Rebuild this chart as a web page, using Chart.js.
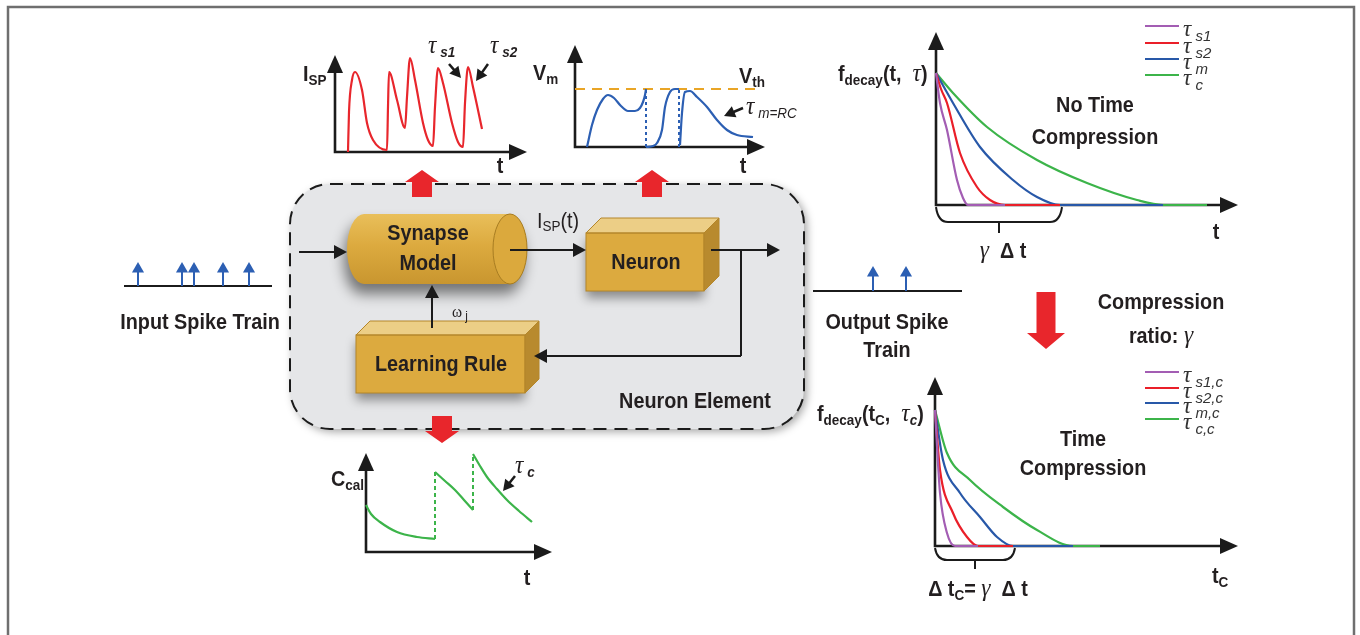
<!DOCTYPE html>
<html>
<head>
<meta charset="utf-8">
<script src="https://cdn.jsdelivr.net/npm/chart.js@4.4.1/dist/chart.umd.min.js"></script>
<style>
  body { margin: 0; width: 1360px; height: 635px; overflow: hidden; position: relative; background: #fff; }
  canvas { position: absolute; }
  .t { position: absolute; white-space: nowrap; font-family: "Liberation Sans", Arial, sans-serif; font-weight: bold; color: #231f20; line-height: 1; font-size: 22px; }
  .c { transform: translate(-50%, -50%) scaleX(.9); }
  .l { transform-origin: 0 50%; transform: translate(0, -50%) scaleX(.9); }
  .g { font-family: "Liberation Serif", "DejaVu Serif", serif; font-style: italic; font-weight: normal; font-size: 26px; }
  .sb { font-size: 15px; position: relative; top: 4px; }
  .n { font-weight: normal; }
  .lg { position: absolute; white-space: nowrap; font-family: "Liberation Sans", Arial, sans-serif; color: #333; line-height: 1; transform: translate(0, -50%); }
  .lg .g { font-size: 23px; }
  .lg .s { font-size: 15px; font-style: italic; position: relative; top: 5px; }
</style>
</head>
<body>
<canvas id="bg" width="1360" height="635" style="left:0;top:0"></canvas>
<canvas id="ispChart"></canvas>
<canvas id="vmChart"></canvas>
<canvas id="calChart"></canvas>
<canvas id="decayChart"></canvas>
<canvas id="decayCChart"></canvas>
<canvas id="inSpikes"></canvas>
<canvas id="outSpikes"></canvas>

<!-- I_SP plot -->
<div class="t l" style="left:303px;top:74px">I<span class="sb">SP</span></div>
<div class="t c" style="left:500px;top:166px">t</div>
<div class="t l" style="left:428px;top:45px"><span class="g">τ</span><span class="sb" style="font-style:italic">&nbsp;s1</span></div>
<div class="t l" style="left:490px;top:45px"><span class="g">τ</span><span class="sb" style="font-style:italic">&nbsp;s2</span></div>

<!-- V_m plot -->
<div class="t l" style="left:533px;top:73px">V<span class="sb">m</span></div>
<div class="t l" style="left:739px;top:76px">V<span class="sb">th</span></div>
<div class="t c" style="left:743px;top:166px">t</div>
<div class="t l" style="left:746px;top:106px"><span class="g">τ</span><span class="sb n" style="font-style:italic">&nbsp;m=RC</span></div>

<!-- C_cal plot -->
<div class="t l" style="left:331px;top:479px">C<span class="sb">cal</span></div>
<div class="t c" style="left:527px;top:578px">t</div>
<div class="t l" style="left:515px;top:465px"><span class="g">τ</span><span class="sb" style="font-style:italic">&nbsp;c</span></div>

<!-- decay, no compression -->
<div class="t l" style="left:838px;top:73px">f<span class="sb">decay</span>(t,&nbsp;&nbsp;<span class="g">τ</span>)</div>
<div class="t c" style="left:1095px;top:105px">No Time</div>
<div class="t c" style="left:1095px;top:137px">Compression</div>
<div class="t c" style="left:1216px;top:232px">t</div>
<div class="t c" style="left:1003px;top:250px"><span class="g">γ</span>&nbsp;&nbsp;Δ t</div>

<!-- decay, compressed -->
<div class="t l" style="left:817px;top:413px">f<span class="sb">decay</span>(t<span class="sb">C</span>,&nbsp;&nbsp;<span class="g">τ</span><span class="sb" style="font-style:italic">c</span>)</div>
<div class="t c" style="left:1083px;top:439px">Time</div>
<div class="t c" style="left:1083px;top:468px">Compression</div>
<div class="t l" style="left:1212px;top:576px">t<span class="sb">C</span></div>
<div class="t c" style="left:978px;top:588px">Δ t<span class="sb">C</span>= <span class="g">γ</span>&nbsp;&nbsp;Δ t</div>

<!-- block diagram -->
<div class="t l n" style="left:537px;top:221px">I<span class="sb" style="top:3px">SP</span>(t)</div>
<div class="t l n" style="left:452px;top:310px"><span class="g" style="font-style:normal;font-size:17px">ω</span><span style="font-size:13px;position:relative;top:3px">&nbsp;j</span></div>
<div class="t c" style="left:428px;top:233px">Synapse</div>
<div class="t c" style="left:428px;top:263px">Model</div>
<div class="t c" style="left:646px;top:262px">Neuron</div>
<div class="t c" style="left:441px;top:364px">Learning Rule</div>
<div class="t c" style="left:695px;top:401px">Neuron Element</div>
<div class="t c" style="left:200px;top:322px">Input Spike Train</div>
<div class="t c" style="left:887px;top:322px">Output Spike</div>
<div class="t c" style="left:887px;top:350px">Train</div>
<div class="t c" style="left:1161px;top:302px">Compression</div>
<div class="t c" style="left:1161px;top:335px">ratio: <span class="g">γ</span></div>

<div id="legends"></div>

<script>
// values, [t, value] in each plot's own units

// synaptic current I_SP
const ispTrace = [[13,0],[14,40],[17,72],[20,80],[27,62],[32,29],[38,12],[52,2],[53,45],[54,80],[62,52],[70,24],
                  [72,55],[75,94],[80,72],[88,29],[93,12],[98,6],[100,45],[103,84],[108,69],[117,29],[123,10],
                  [128,5],[130,49],[133,85],[138,65],[147,23]];

// membrane potential V_m
const vmTrace1 = [[12,0],[17,22],[22,37],[28,48],[33,52],[39,49],[46,41],[53,36],[60,36],[65,39],[68,45],[70,52],[71,58]];
const vmTrace2 = [[71,0],[78,1],[82,4],[87,17],[90,40],[95,55],[100,58],[104,58]];
const vmTrace3 = [[105,2],[107,34],[110,55],[115,56],[122,50],[132,40],[142,27],[152,17],[162,12],[178,10]];
const vmSpikeTimes = [71, 104];
const vThreshold = 58;
const vThresholdEnd = 183;

// calcium C_cal
const calTrace1 = [[0,47],[5,38],[14,30],[31,20],[51,15],[69,13]];
const calTrace2 = [[69,80],[79,71],[89,62],[98,52],[107,42]];
const calTrace3 = [[107,98],[114,86],[121,75],[131,63],[141,52],[153,41],[166,30]];
const calJumps = [[69, 13, 80], [107, 42, 98]];

// decay functions, no time compression
const tauS1 = [[0,132],[4,102],[11,75],[21,25],[27,7],[32,0],[69,0]];
const tauS2 = [[0,132],[5,116],[11,102],[24,52],[41,18],[54,5],[69,0],[124,0]];
const tauM  = [[0,132],[17,102],[44,58],[77,25],[101,8],[124,0],[227,0]];
const tauC  = [[0,132],[17,112],[51,78],[101,45],[151,22],[201,5],[227,0],[271,0]];
const gammaDt = 126;

// decay functions, time compressed
const tauS1c = [[0,136],[2,100],[5,53],[12,13],[20,0],[43,0]];
const tauS2c = [[0,136],[2,110],[5,76],[18,33],[32,9],[43,0],[78,0]];
const tauMc  = [[0,136],[8,86],[25,53],[45,29],[62,9],[78,0],[138,0]];
const tauCc  = [[0,136],[12,93],[35,66],[68,39],[102,16],[138,0],[165,0]];
const dtC = 80;

// spike trains
const inputSpikes = [14, 58, 70, 99, 125];
const outputSpikes = [60, 93];

const legendTop = ['s1', 's2', 'm', 'c'];
const legendBottom = ['s1,c', 's2,c', 'm,c', 'c,c'];
const decayColors = ['#a35db3', '#ea1f29', '#2858a8', '#3cb44a'];

const RED = '#e8262c', BLUE = '#2c5fb3', GREEN = '#3cb44a', INK = '#1b1b1b';

// ---------- static diagram ----------
const g = document.getElementById('bg').getContext('2d');
g.fillStyle = '#fff';
g.fillRect(0, 0, 1360, 635);
g.strokeStyle = '#6f6f6f';
g.lineWidth = 2.5;
g.strokeRect(8, 7, 1346, 660);

function rrect(x, y, w, h, r) {
  g.beginPath();
  g.moveTo(x + r, y);
  g.arcTo(x + w, y, x + w, y + h, r);
  g.arcTo(x + w, y + h, x, y + h, r);
  g.arcTo(x, y + h, x, y, r);
  g.arcTo(x, y, x + w, y, r);
  g.closePath();
}

function arrow(x0, y0, x1, y1, len, hw, lw) {
  len = len || 13; hw = hw || 7; lw = lw || 2;
  const a = Math.atan2(y1 - y0, x1 - x0);
  g.strokeStyle = g.fillStyle = INK;
  g.lineWidth = lw;
  g.beginPath();
  g.moveTo(x0, y0);
  g.lineTo(x1 - Math.cos(a) * (len - 2), y1 - Math.sin(a) * (len - 2));
  g.stroke();
  g.beginPath();
  g.moveTo(x1, y1);
  g.lineTo(x1 - Math.cos(a) * len - Math.sin(a) * hw, y1 - Math.sin(a) * len + Math.cos(a) * hw);
  g.lineTo(x1 - Math.cos(a) * len + Math.sin(a) * hw, y1 - Math.sin(a) * len - Math.cos(a) * hw);
  g.closePath();
  g.fill();
}

function blockArrow(cx, tipY, dir, headW, headL, stemW, stemL) {
  const baseY = tipY - dir * headL, endY = baseY - dir * stemL;
  g.fillStyle = RED;
  g.beginPath();
  g.moveTo(cx, tipY);
  g.lineTo(cx + headW / 2, baseY);
  g.lineTo(cx + stemW / 2, baseY);
  g.lineTo(cx + stemW / 2, endY);
  g.lineTo(cx - stemW / 2, endY);
  g.lineTo(cx - stemW / 2, baseY);
  g.lineTo(cx - headW / 2, baseY);
  g.closePath();
  g.fill();
}

function box3d(x, y, w, h, d) {
  g.save();
  g.shadowColor = 'rgba(0,0,0,0.4)';
  g.shadowBlur = 10;
  g.shadowOffsetY = 7;
  g.fillStyle = '#dcaa3f';
  g.fillRect(x, y, w, h);
  g.restore();
  g.strokeStyle = '#b4862a';
  g.lineWidth = 1;
  g.fillStyle = '#ecce86';
  g.beginPath();
  g.moveTo(x, y); g.lineTo(x + d, y - d); g.lineTo(x + w + d, y - d); g.lineTo(x + w, y);
  g.closePath(); g.fill(); g.stroke();
  g.fillStyle = '#b88a2e';
  g.beginPath();
  g.moveTo(x + w, y); g.lineTo(x + w + d, y - d); g.lineTo(x + w + d, y + h - d); g.lineTo(x + w, y + h);
  g.closePath(); g.fill(); g.stroke();
  g.strokeRect(x, y, w, h);
}

// neuron element panel
g.save();
g.shadowColor = 'rgba(0,0,0,0.35)';
g.shadowBlur = 8;
g.shadowOffsetX = 3;
g.shadowOffsetY = 3;
rrect(290, 184, 514, 245, 40);
g.fillStyle = '#e5e6e8';
g.fill();
g.restore();
rrect(290, 184, 514, 245, 40);
g.setLineDash([13, 8]);
g.lineWidth = 2;
g.strokeStyle = INK;
g.stroke();
g.setLineDash([]);

// synapse cylinder
(function () {
  const x0 = 347, x1 = 527, y0 = 214, y1 = 284, rx = 17;
  const cy = (y0 + y1) / 2, ry = (y1 - y0) / 2, lx = x0 + rx, rc = x1 - rx;
  const grad = g.createLinearGradient(0, y0, 0, y1);
  grad.addColorStop(0, '#e9bf5a');
  grad.addColorStop(0.45, '#dcaa3f');
  grad.addColorStop(1, '#c9962f');
  g.save();
  g.shadowColor = 'rgba(0,0,0,0.5)';
  g.shadowBlur = 14;
  g.shadowOffsetX = -3;
  g.shadowOffsetY = 10;
  g.beginPath();
  g.moveTo(lx, y0);
  g.lineTo(rc, y0);
  g.ellipse(rc, cy, rx, ry, 0, -Math.PI / 2, Math.PI / 2, false);
  g.lineTo(lx, y1);
  g.ellipse(lx, cy, rx, ry, 0, Math.PI / 2, Math.PI * 1.5, false);
  g.closePath();
  g.fillStyle = grad;
  g.fill();
  g.restore();
  g.beginPath();
  g.ellipse(rc, cy, rx, ry, 0, 0, Math.PI * 2);
  g.fillStyle = '#dba93d';
  g.fill();
  g.strokeStyle = '#a87d22';
  g.lineWidth = 1;
  g.stroke();
})();

box3d(586, 233, 118, 58, 15);
box3d(356, 335, 169, 58, 14);

// signal flow
arrow(299, 252, 347, 252);
arrow(510, 250, 586, 250);
arrow(711, 250, 780, 250);
g.strokeStyle = INK;
g.lineWidth = 2;
g.beginPath();
g.moveTo(741, 250);
g.lineTo(741, 356);
g.stroke();
arrow(741, 356, 534, 356);
arrow(432, 328, 432, 285);

// red block arrows
blockArrow(422, 170, -1, 34, 12, 20, 15);
blockArrow(652, 170, -1, 34, 12, 20, 15);
blockArrow(442, 443, 1, 34, 12, 20, 15);
blockArrow(1046, 349, 1, 38, 16, 19, 41);

// pointer arrows next to the time constants
arrow(449, 64, 461, 78, 11, 6, 2.5);
arrow(488, 64, 476, 81, 11, 6, 2.5);
arrow(743, 108, 724, 116, 11, 6, 2.5);
arrow(515, 476, 503, 491, 11, 6, 2.5);

// legends of the two decay plots
const legTopY = [26, 43, 59, 75], legBotY = [372, 388, 403, 419];
const legHost = document.getElementById('legends');
function legend(names, ys) {
  names.forEach((n, i) => {
    g.strokeStyle = decayColors[i];
    g.lineWidth = 2.2;
    g.beginPath();
    g.moveTo(1145, ys[i]);
    g.lineTo(1179, ys[i]);
    g.stroke();
    const d = document.createElement('div');
    d.className = 'lg';
    d.style.left = '1183px';
    d.style.top = (ys[i] + 2) + 'px';
    d.innerHTML = '<span class="g">τ</span><span class="s">&nbsp;' + n + '</span>';
    legHost.appendChild(d);
  });
}
legend(legendTop, legTopY);
legend(legendBottom, legBotY);

// ---------- charts ----------
const arrowAxes = {
  id: 'arrowAxes',
  beforeDatasetsDraw(chart) {
    const ctx = chart.ctx, a = chart.chartArea, L = 18, W = 8;
    ctx.save();
    ctx.strokeStyle = ctx.fillStyle = INK;
    ctx.lineWidth = 2.6;
    ctx.beginPath();
    ctx.moveTo(a.left, a.top + L - 2);
    ctx.lineTo(a.left, a.bottom);
    ctx.lineTo(a.right - L + 2, a.bottom);
    ctx.stroke();
    ctx.beginPath();
    ctx.moveTo(a.left, a.top);
    ctx.lineTo(a.left - W, a.top + L);
    ctx.lineTo(a.left + W, a.top + L);
    ctx.closePath();
    ctx.fill();
    ctx.beginPath();
    ctx.moveTo(a.right, a.bottom);
    ctx.lineTo(a.right - L, a.bottom - W);
    ctx.lineTo(a.right - L, a.bottom + W);
    ctx.closePath();
    ctx.fill();
    ctx.restore();
  }
};

const bracket = {
  id: 'bracket',
  afterDatasetsDraw(chart, args, o) {
    if (!o || o.to == null) return;
    const ctx = chart.ctx, xs = chart.scales.x;
    const x0 = xs.getPixelForValue(0), x1 = xs.getPixelForValue(o.to);
    const y0 = chart.chartArea.bottom + 2, y1 = y0 + o.depth, mid = (x0 + x1) / 2;
    ctx.save();
    ctx.strokeStyle = INK;
    ctx.lineWidth = 2;
    ctx.beginPath();
    ctx.moveTo(x0, y0);
    ctx.quadraticCurveTo(x0 + 2, y1, x0 + 12, y1);
    ctx.lineTo(x1 - 12, y1);
    ctx.quadraticCurveTo(x1 - 2, y1, x1, y0);
    ctx.moveTo(mid, y1);
    ctx.lineTo(mid, y1 + o.tick);
    ctx.stroke();
    ctx.restore();
  }
};

const pts = a => a.map(([x, y]) => ({ x, y }));
function curve(arr, color, extra) {
  return Object.assign({
    data: pts(arr), borderColor: color, borderWidth: 2.2, pointRadius: 0,
    cubicInterpolationMode: 'monotone', clip: false
  }, extra || {});
}
function vline(x, y0, y1, color, dash) {
  return { data: [{ x, y: y0 }, { x, y: y1 }], borderColor: color, borderWidth: 2, borderDash: dash, pointRadius: 0, clip: false };
}

function makeChart(id, box, range, datasets, plugins, pluginOpts, pad) {
  pad = pad || { left: 12, right: 12, top: 12, bottom: 12 };
  const cv = document.getElementById(id);
  cv.width = box.w + pad.left + pad.right;
  cv.height = box.h + pad.top + pad.bottom;
  cv.style.left = (box.x - pad.left) + 'px';
  cv.style.top = (box.y - pad.top) + 'px';
  return new Chart(cv, {
    type: 'line',
    data: { datasets },
    options: {
      responsive: false,
      animation: false,
      events: [],
      layout: { padding: pad },
      plugins: Object.assign({ legend: { display: false }, tooltip: { enabled: false } }, pluginOpts || {}),
      scales: {
        x: { type: 'linear', display: false, min: 0, max: range[0] },
        y: { type: 'linear', display: false, min: 0, max: range[1] }
      }
    },
    plugins: plugins
  });
}

// I_SP
makeChart('ispChart', { x: 335, y: 55, w: 192, h: 97 }, [192, 97],
  [curve(ispTrace, RED)], [arrowAxes]);

// V_m
makeChart('vmChart', { x: 575, y: 45, w: 190, h: 102 }, [190, 102], [
  curve(vmTrace1, BLUE),
  curve(vmTrace2, BLUE),
  curve(vmTrace3, BLUE),
  ...vmSpikeTimes.map(t => vline(t, 0, vThreshold, BLUE, [3, 3])),
  { data: [{ x: 0, y: vThreshold }, { x: vThresholdEnd, y: vThreshold }], borderColor: '#e9a526', borderWidth: 2, borderDash: [10, 7], pointRadius: 0 }
], [arrowAxes]);

// C_cal
makeChart('calChart', { x: 366, y: 453, w: 186, h: 99 }, [186, 99], [
  curve(calTrace1, GREEN),
  curve(calTrace2, GREEN),
  curve(calTrace3, GREEN),
  ...calJumps.map(([t, lo, hi]) => vline(t, lo, hi, GREEN, [4, 3]))
], [arrowAxes]);

// decay, no compression
makeChart('decayChart', { x: 936, y: 32, w: 302, h: 173 }, [302, 173], [
  curve(tauS1, decayColors[0]),
  curve(tauS2, decayColors[1]),
  curve(tauM, decayColors[2]),
  curve(tauC, decayColors[3])
], [arrowAxes, bracket], { bracket: { to: gammaDt, depth: 15, tick: 11 } },
  { left: 12, right: 12, top: 12, bottom: 34 });

// decay, compressed
makeChart('decayCChart', { x: 935, y: 377, w: 303, h: 169 }, [303, 169], [
  curve(tauS1c, decayColors[0]),
  curve(tauS2c, decayColors[1]),
  curve(tauMc, decayColors[2]),
  curve(tauCc, decayColors[3])
], [arrowAxes, bracket], { bracket: { to: dtC, depth: 12, tick: 9 } },
  { left: 12, right: 12, top: 12, bottom: 30 });

// spike trains
function spikeSets(times, len) {
  return [
    ...times.map(t => ({
      data: [{ x: t, y: 0 }, { x: t, y: 1 }], borderColor: BLUE, borderWidth: 2,
      pointStyle: 'triangle', pointRadius: [0, 7], pointBackgroundColor: BLUE, pointBorderWidth: 0, clip: false
    })),
    { data: [{ x: 0, y: 0 }, { x: len, y: 0 }], borderColor: INK, borderWidth: 2, pointRadius: 0, clip: false }
  ];
}
makeChart('inSpikes', { x: 124, y: 269, w: 148, h: 17 }, [148, 1], spikeSets(inputSpikes, 148), []);
makeChart('outSpikes', { x: 813, y: 273, w: 149, h: 18 }, [149, 1], spikeSets(outputSpikes, 149), []);
</script>
</body>
</html>
